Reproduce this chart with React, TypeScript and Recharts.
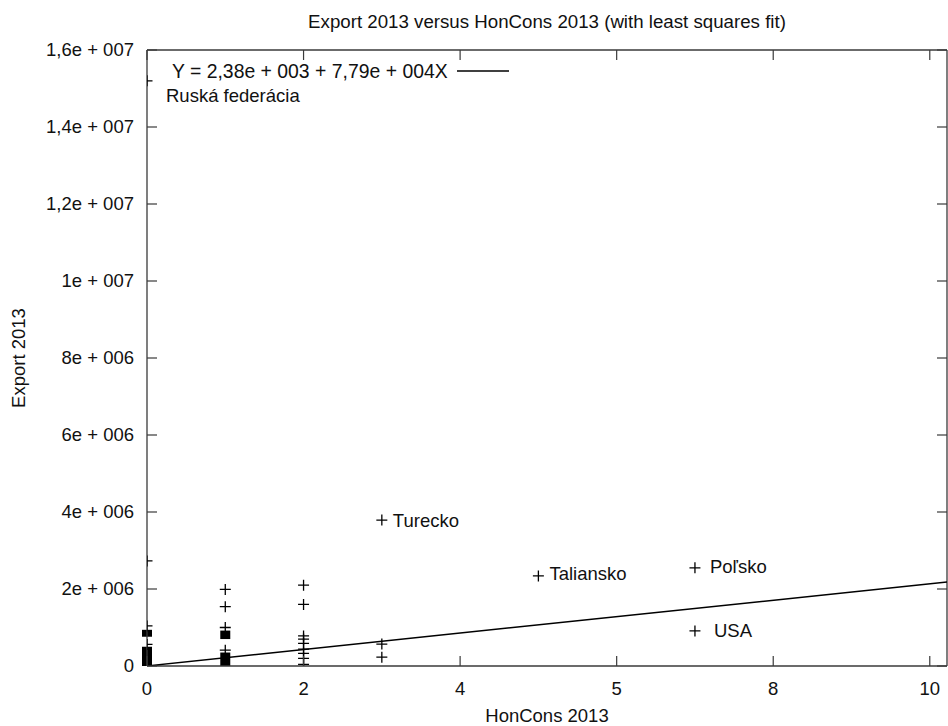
import { ScatterChart, Scatter, XAxis, YAxis, ErrorBar, Legend, ReferenceLine } from "recharts";

// HonCons 2013 (x) vs Export 2013 (y)
const labeledNames = ["Ruská federácia", "Turecko", "Taliansko", "Poľsko", "USA"];
const labeledHon = [0, 3, 5, 7, 7];
const labeledExport = [15200000, 3790000, 2340000, 2550000, 910000];

const plainHon = [0, 0, 0, 1, 1, 1, 1, 2, 2, 2, 2, 2, 2, 2, 2, 2, 3, 3];
const plainExport = [
  2730000, 1040000, 560000, 1990000, 1540000, 1000000, 410000, 2100000,
  1600000, 780000, 700000, 590000, 440000, 330000, 200000, 40000, 570000,
  230000,
];

// stacks of overlapping points that print as solid blocks
const clusterHon = [0, 0, 1, 1];
const clusterLow = [0, 760000, 0, 700000];
const clusterHigh = [500000, 940000, 350000, 920000];

// least squares line
const fitHon = [0, 10.22];
const fitExport = [2380, 2180000];
const fitName = "Y = 2,38e + 003 + 7,79e + 004X";

const xMax = 10.22;
const yMax = 16000000;
const xTicks = [0, 2, 4, 6, 8, 10];
const xTickLabels = ["0", "2", "4", "5", "8", "10"];
const yTicks = [0, 2e6, 4e6, 6e6, 8e6, 1e7, 1.2e7, 1.4e7, 1.6e7];
const yTickLabels = [
  "0",
  "2e + 006",
  "4e + 006",
  "6e + 006",
  "8e + 006",
  "1e + 007",
  "1,2e + 007",
  "1,4e + 007",
  "1,6e + 007",
];

// where each country name sits relative to its point
const labelOffsets: Record<string, [number, number]> = {
  "Ruská federácia": [19, 15],
  Turecko: [11, 0],
  Taliansko: [11, -2],
  "Poľsko": [15, -1],
  USA: [19, 0],
};

const labeledData = labeledNames.map((name, i) => ({
  name,
  x: labeledHon[i],
  y: labeledExport[i],
}));
const plainData = plainHon.map((x, i) => ({ x, y: plainExport[i] }));
const clusterData = clusterHon.map((x, i) => {
  const mid = (clusterLow[i] + clusterHigh[i]) / 2;
  return { x, y: mid, err: [mid - clusterLow[i], clusterHigh[i] - mid] };
});
const fitData = fitHon.map((x, i) => ({ x, y: fitExport[i] }));

const FONT = '"Liberation Sans", Arial, sans-serif';
const FS = 18.5;
const AXIS = "#3a3a3a";
const TXT = "#111";
const TICK = 10;

// plot frame
const W = 948;
const H = 726;
const PLOT_L = 147;
const PLOT_R = 947;
const PLOT_T = 50;
const PLOT_B = 666;

const Plus = (props: any) => {
  const { cx, cy, payload } = props;
  const off = payload && payload.name ? labelOffsets[payload.name] : null;
  return (
    <g>
      <path
        d={`M${cx - 5.5},${cy}H${cx + 5.5}M${cx},${cy - 5.5}V${cy + 5.5}`}
        stroke="#000"
        strokeWidth={1.3}
        fill="none"
      />
      {off && (
        <text
          x={cx + off[0]}
          y={cy + off[1]}
          dy="0.35em"
          fill={TXT}
          fontFamily={FONT}
          fontSize={FS}
        >
          {payload.name}
        </text>
      )}
    </g>
  );
};

const Nothing = () => <g />;

// inward ticks on left and mirrored on right
const LeftTick = (props: any) => {
  const { y, payload } = props;
  return (
    <g>
      <line x1={PLOT_L} x2={PLOT_L + TICK} y1={y} y2={y} stroke={AXIS} strokeWidth={1.2} />
      <line x1={PLOT_R - TICK} x2={PLOT_R} y1={y} y2={y} stroke={AXIS} strokeWidth={1.2} />
      <text x={PLOT_L - 13} y={y} dy="0.35em" textAnchor="end" fill={TXT} fontFamily={FONT} fontSize={FS}>
        {yTickLabels[yTicks.indexOf(payload.value)]}
      </text>
    </g>
  );
};

// inward ticks on bottom and mirrored on top
const BottomTick = (props: any) => {
  const { x, payload } = props;
  return (
    <g>
      <line x1={x} x2={x} y1={PLOT_B} y2={PLOT_B - TICK} stroke={AXIS} strokeWidth={1.2} />
      <line x1={x} x2={x} y1={PLOT_T} y2={PLOT_T + TICK} stroke={AXIS} strokeWidth={1.2} />
      <text x={x} y={PLOT_B + 23} dy="0.35em" textAnchor="middle" fill={TXT} fontFamily={FONT} fontSize={FS}>
        {xTickLabels[xTicks.indexOf(payload.value)]}
      </text>
    </g>
  );
};

const YLabel = () => {
  const cx = 19;
  const cy = (PLOT_T + PLOT_B) / 2;
  return (
    <text
      x={cx}
      y={cy}
      transform={`rotate(-90 ${cx} ${cy})`}
      textAnchor="middle"
      dy="0.35em"
      fill={TXT}
      fontFamily={FONT}
      fontSize={FS}
    >
      Export 2013
    </text>
  );
};

const FitLegend = (props: any) => {
  const items = (props.payload || []).filter((p: any) => p.type !== "none");
  return (
    <div style={{ display: "flex", alignItems: "center", fontFamily: FONT, fontSize: 19.4, color: TXT, lineHeight: "20px" }}>
      {items.map((p: any) => (
        <div key={p.value} style={{ display: "flex", alignItems: "center" }}>
          <span style={{ whiteSpace: "nowrap" }}>{p.value}</span>
          <svg width={61} height={6}>
            <line x1={9} x2={61} y1={3} y2={3} stroke="#000" strokeWidth={1.3} />
          </svg>
        </div>
      ))}
    </div>
  );
};

export default function App() {
  return (
    <div style={{ position: "relative", width: W, height: H, background: "#fff", overflow: "hidden" }}>
      <style>{`body{margin:0;background:#fff}`}</style>
      <div
        style={{
          position: "absolute",
          left: PLOT_L,
          width: PLOT_R - PLOT_L,
          top: 12,
          textAlign: "center",
          fontFamily: FONT,
          fontSize: 18.7,
          lineHeight: "20px",
          color: TXT,
          whiteSpace: "nowrap",
        }}
      >
        Export 2013 versus HonCons 2013 (with least squares fit)
      </div>
      <ScatterChart
        width={W}
        height={H}
        margin={{ top: PLOT_T, right: W - PLOT_R, bottom: 0, left: 0 }}
      >
        <XAxis
          type="number"
          dataKey="x"
          domain={[0, xMax]}
          ticks={xTicks}
          interval={0}
          height={H - PLOT_B}
          tickSize={0}
          tickLine={false}
          tick={<BottomTick />}
          axisLine={{ stroke: AXIS, strokeWidth: 1.3 }}
          allowDataOverflow
          label={{
            value: "HonCons 2013",
            position: "insideBottom",
            offset: 4,
            fill: TXT,
            fontFamily: FONT,
            fontSize: FS,
          }}
        />
        <YAxis
          type="number"
          dataKey="y"
          domain={[0, yMax]}
          ticks={yTicks}
          interval={0}
          width={PLOT_L}
          tickSize={0}
          tickLine={false}
          tick={<LeftTick />}
          axisLine={{ stroke: AXIS, strokeWidth: 1.3 }}
          allowDataOverflow
          label={<YLabel />}
        />
        <ReferenceLine y={yMax} stroke={AXIS} strokeWidth={1.3} ifOverflow="visible" />
        <ReferenceLine x={xMax} stroke={AXIS} strokeWidth={1.3} ifOverflow="visible" />
        <Legend
          layout="horizontal"
          verticalAlign="middle"
          align="center"
          content={<FitLegend />}
          wrapperStyle={{ left: 172, top: 61, width: 440, height: 20 }}
        />
        <Scatter
          name={fitName}
          data={fitData}
          line={{ stroke: "#000", strokeWidth: 1.5 }}
          lineType="joint"
          shape={<Nothing />}
          legendType="line"
          isAnimationActive={false}
        />
        <Scatter
          name="clusters"
          data={clusterData}
          shape={<Nothing />}
          legendType="none"
          isAnimationActive={false}
        >
          <ErrorBar
            dataKey="err"
            direction="y"
            width={0}
            strokeWidth={10}
            stroke="#000"
            isAnimationActive={false}
          />
        </Scatter>
        <Scatter
          name="points"
          data={plainData}
          shape={<Plus />}
          legendType="none"
          isAnimationActive={false}
        />
        <Scatter
          name="labeled"
          data={labeledData}
          shape={<Plus />}
          legendType="none"
          isAnimationActive={false}
        />
      </ScatterChart>
    </div>
  );
}
